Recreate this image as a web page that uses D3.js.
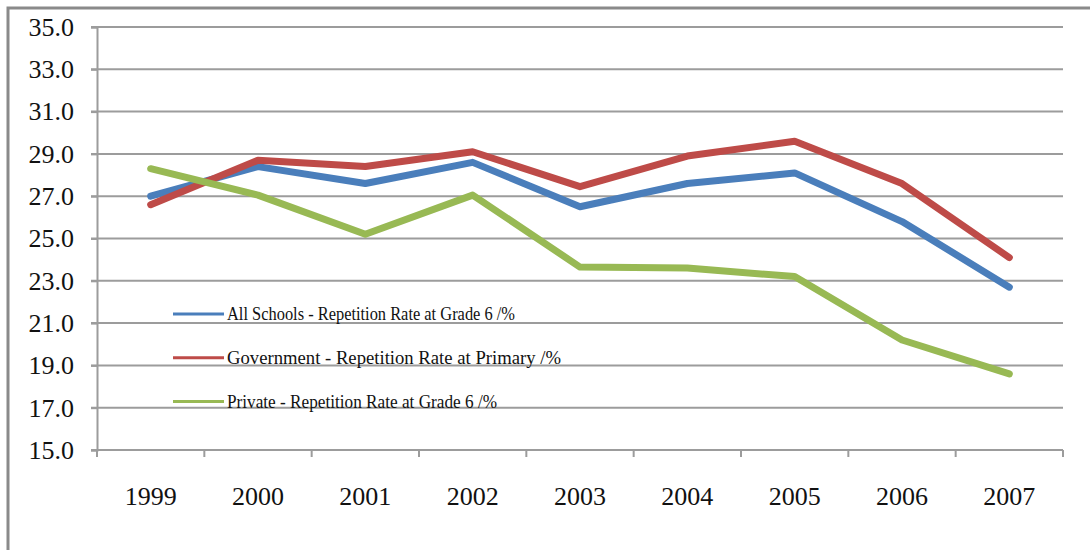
<!DOCTYPE html>
<html>
<head>
<meta charset="utf-8">
<script src="https://cdn.jsdelivr.net/npm/d3@7"></script>
<style>
  body { margin: 0; background: #fff; }
  text { font-family: "Liberation Serif", "Times New Roman", serif; fill: #111; }
</style>
</head>
<body>
<script>
// data
const years = ["1999", "2000", "2001", "2002", "2003", "2004", "2005", "2006", "2007"];
const allSchools = [27.0, 28.4, 27.6, 28.6, 26.5, 27.6, 28.1, 25.8, 22.7];
const government = [26.6, 28.7, 28.4, 29.1, 27.45, 28.9, 29.6, 27.6, 24.1];
const privateSchools = [28.3, 27.05, 25.2, 27.05, 23.65, 23.6, 23.2, 20.2, 18.6];
const yTicks = [15, 17, 19, 21, 23, 25, 27, 29, 31, 33, 35];

const series = [
  {name: "All Schools - Repetition Rate at Grade 6 /%", values: allSchools, color: "#4a7ebb", len: 288},
  {name: "Government - Repetition Rate at Primary /%", values: government, color: "#be4b48", len: 334},
  {name: "Private - Repetition Rate at Grade 6 /%", values: privateSchools, color: "#98b954", len: 270}
];

const width = 1090, height = 550;
const marginLeft = 97, marginRight = 27, marginTop = 27, marginBottom = 100;

const svg = d3.select("body").append("svg")
    .attr("width", width)
    .attr("height", height);

// outer frame (top + left edges visible)
svg.append("path")
    .attr("d", `M8,${height} V8 H${width}`)
    .attr("fill", "none")
    .attr("stroke", "#8a8a8a")
    .attr("stroke-width", 3);

const x = d3.scaleBand(years, [marginLeft, width - marginRight]);
const y = d3.scaleLinear([15, 35], [height - marginBottom, marginTop]);

// grid lines
svg.append("g")
  .selectAll("line")
  .data(yTicks.slice(1))
  .join("line")
    .attr("x1", marginLeft - 6)
    .attr("x2", width - marginRight)
    .attr("y1", d => y(d))
    .attr("y2", d => y(d))
    .attr("stroke", "#9c9c9c")
    .attr("stroke-width", 2);

// y axis
svg.append("g")
    .attr("transform", `translate(${marginLeft},0)`)
    .call(d3.axisLeft(y).tickValues(yTicks).tickFormat(d3.format(".1f")).tickSize(6).tickPadding(17))
    .call(g => g.select(".domain").attr("stroke", "#9c9c9c").attr("stroke-width", 2))
    .call(g => g.selectAll(".tick line").attr("stroke", "#9c9c9c").attr("stroke-width", 2))
    .call(g => g.selectAll(".tick text")
        .attr("font-family", "Liberation Serif, serif")
        .attr("font-size", 26)
        .attr("fill", "#111"));

// x axis, ticks on category boundaries
const xAxisG = svg.append("g")
    .attr("transform", `translate(0,${height - marginBottom})`);

xAxisG.append("line")
    .attr("x1", marginLeft - 6)
    .attr("x2", width - marginRight)
    .attr("stroke", "#9c9c9c")
    .attr("stroke-width", 2);

xAxisG.selectAll(".bnd")
  .data(years.concat(["end"]))
  .join("line")
    .attr("class", "bnd")
    .attr("x1", (d, i) => marginLeft + i * x.step())
    .attr("x2", (d, i) => marginLeft + i * x.step())
    .attr("y1", 0)
    .attr("y2", 7)
    .attr("stroke", "#9c9c9c")
    .attr("stroke-width", 2);

xAxisG.selectAll("text")
  .data(years)
  .join("text")
    .attr("x", d => x(d) + x.bandwidth() / 2)
    .attr("y", 55)
    .attr("text-anchor", "middle")
    .attr("font-size", 26)
    .text(d => d);

// lines
const line = d3.line()
    .x((d, i) => x(years[i]) + x.bandwidth() / 2)
    .y(d => y(d));

svg.append("g")
  .selectAll("path")
  .data(series)
  .join("path")
    .attr("d", d => line(d.values))
    .attr("fill", "none")
    .attr("stroke", d => d.color)
    .attr("stroke-width", 7)
    .attr("stroke-linejoin", "round")
    .attr("stroke-linecap", "round");

// legend
const legend = svg.append("g")
  .selectAll("g")
  .data(series)
  .join("g")
    .attr("transform", (d, i) => `translate(173,${314 + i * 43.8})`);

legend.append("line")
    .attr("x1", 0)
    .attr("x2", 51)
    .attr("stroke", d => d.color)
    .attr("stroke-width", 3);

legend.append("text")
    .attr("x", 54)
    .attr("dy", "0.32em")
    .attr("font-size", 19)
    .attr("textLength", d => d.len)
    .attr("lengthAdjust", "spacingAndGlyphs")
    .text(d => d.name);
</script>
</body>
</html>
